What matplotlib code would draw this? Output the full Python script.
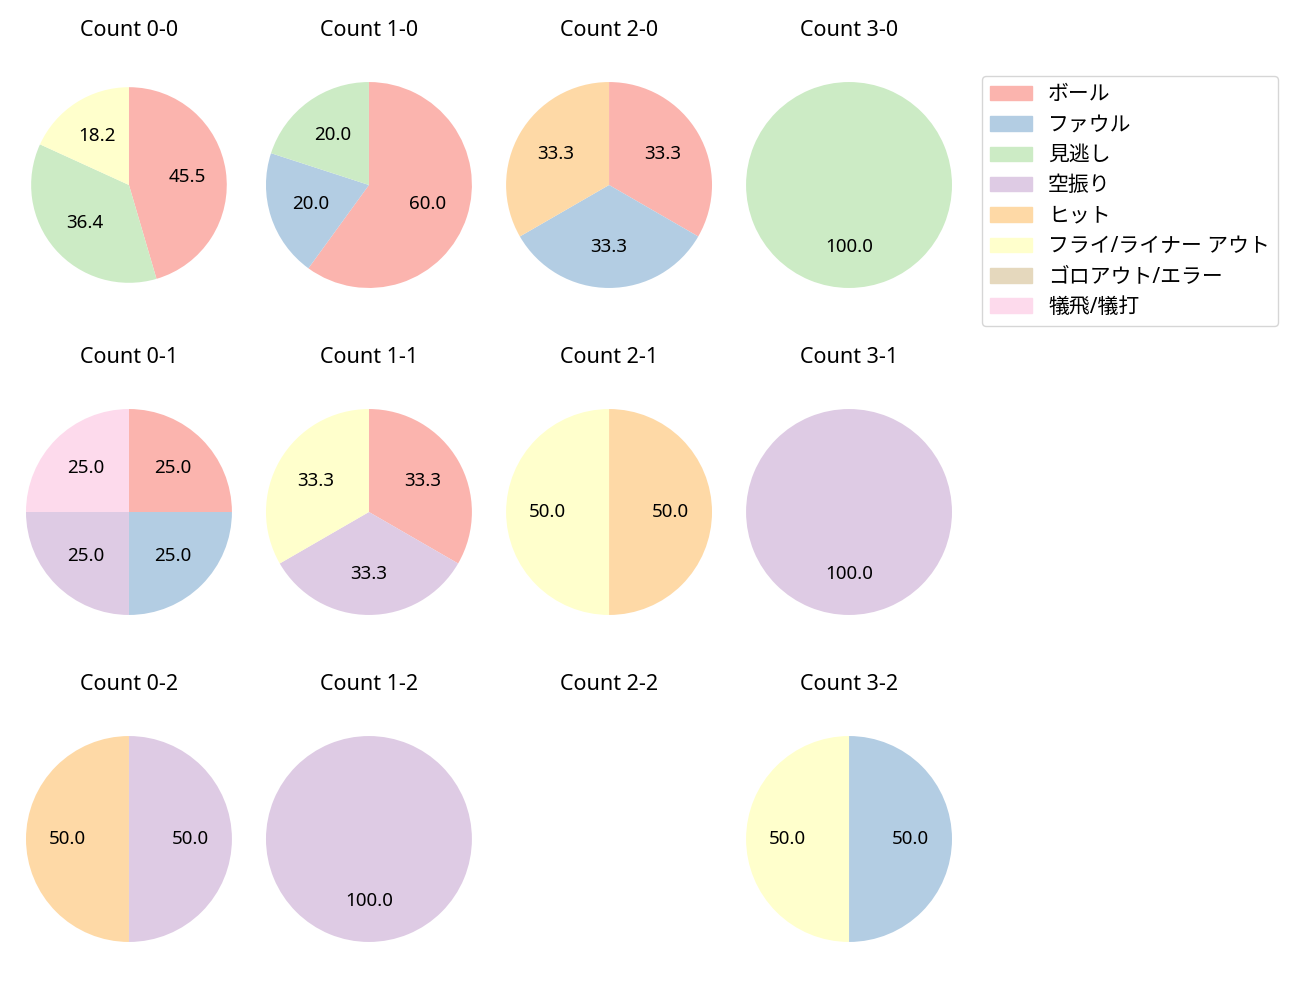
import numpy as np
import matplotlib.pyplot as plt

plt.rcParams['font.family'] = ['Noto Sans', 'Noto Sans CJK JP', 'DejaVu Sans']

# 結果カテゴリ
categories = ["ボール", "ファウル", "見逃し", "空振り", "ヒット",
              "フライ/ライナー アウト", "ゴロアウト/エラー", "犠飛/犠打"]

# カウント別の件数 (categories の順)
count_labels = ["0-0", "1-0", "2-0", "3-0",
                "0-1", "1-1", "2-1", "3-1",
                "0-2", "1-2", "2-2", "3-2"]
c00 = [5, 0, 4, 0, 0, 2, 0, 0]
c10 = [3, 1, 1, 0, 0, 0, 0, 0]
c20 = [1, 1, 0, 0, 1, 0, 0, 0]
c30 = [0, 0, 1, 0, 0, 0, 0, 0]
c01 = [1, 1, 0, 1, 0, 0, 0, 1]
c11 = [1, 0, 0, 1, 0, 1, 0, 0]
c21 = [0, 0, 0, 0, 1, 1, 0, 0]
c31 = [0, 0, 0, 1, 0, 0, 0, 0]
c02 = [0, 0, 0, 1, 1, 0, 0, 0]
c12 = [0, 0, 0, 1, 0, 0, 0, 0]
c22 = [0, 0, 0, 0, 0, 0, 0, 0]
c32 = [0, 1, 0, 0, 0, 1, 0, 0]
all_counts = [c00, c10, c20, c30, c01, c11, c21, c31, c02, c12, c22, c32]

colors = [plt.cm.Pastel1(i) for i in range(len(categories))]

fig = plt.figure(figsize=(13, 10), dpi=100)

# 各パイの中心 (figure座標)
xs = [0.0992, 0.2838, 0.4685, 0.6531]
ys = [0.815, 0.488, 0.161]
w, h = 0.198, 0.2575

for i, (lab, vals) in enumerate(zip(count_labels, all_counts)):
    r, c = divmod(i, 4)
    ax = fig.add_axes([xs[c] - w / 2, ys[r] - h / 2, w, h])
    ax.set_title("Count " + lab, fontsize=15.5, pad=14.5)
    vals = np.array(vals)
    if vals.sum() == 0:
        ax.axis("off")
        continue
    idx = np.nonzero(vals)[0]
    radius = 0.95 if lab == "0-0" else 1.0
    ax.pie(vals[idx], colors=[colors[k] for k in idx], startangle=90,
           counterclock=False, autopct="%.1f", radius=radius,
           textprops={"fontsize": 13.5})
    ax.set_aspect("equal")

handles = [plt.Rectangle((0, 0), 1, 1, color=colors[k]) for k in range(len(categories))]
fig.legend(handles, categories, loc="upper left", bbox_to_anchor=(0.755, 0.924),
           fontsize=15, labelspacing=0.45, borderaxespad=0)

plt.savefig("out.png")
